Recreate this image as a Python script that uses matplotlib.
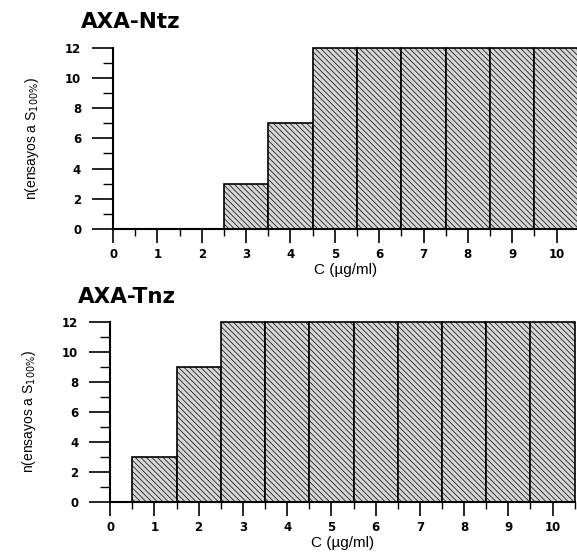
import matplotlib.pyplot as plt
import matplotlib.ticker as mticker

plt.rcParams.update(
    {
        "font.family": ["Liberation Sans", "DejaVu Sans"],
        "hatch.color": "#3c3c3c",
        "hatch.linewidth": 0.5,
    }
)

# Data
conc = [0, 1, 2, 3, 4, 5, 6, 7, 8, 9, 10]
n_ntz = [0, 0, 0, 3, 7, 12, 12, 12, 12, 12, 12]
n_tnz = [0, 3, 9, 12, 12, 12, 12, 12, 12, 12, 12]
titles = ["AXA-Ntz", "AXA-Tnz"]
xlabel = "C (\u00b5g/ml)"
ylabel = "n(ensayos a S$_{100\\%}$)"

fig = plt.figure(figsize=(5.77, 5.57), dpi=100)
ax1 = fig.add_axes([0.196, 0.589, 0.807, 0.325])
ax2 = fig.add_axes([0.191, 0.099, 0.805, 0.323])

for ax, vals, title in [(ax1, n_ntz, titles[0]), (ax2, n_tnz, titles[1])]:
    x = [c for c, v in zip(conc, vals) if v > 0]
    h = [v for v in vals if v > 0]
    bars = ax.bar(
        x,
        h,
        width=1.0,
        color="#d6d6d6",
        edgecolor="black",
        linewidth=1.2,
        hatch="\\\\\\\\\\\\",
    )
    for b in bars:
        b.set_clip_on(False)
    ax.set_xlim(0, 10.5)
    ax.set_ylim(0, 12)
    ax.spines["top"].set_visible(False)
    ax.spines["right"].set_visible(False)
    ax.spines["left"].set_linewidth(1.5)
    ax.spines["bottom"].set_linewidth(1.5)
    ax.xaxis.set_major_locator(mticker.MultipleLocator(1))
    ax.xaxis.set_minor_locator(mticker.FixedLocator([i + 0.5 for i in range(11)]))
    ax.yaxis.set_major_locator(mticker.MultipleLocator(2))
    ax.yaxis.set_minor_locator(mticker.MultipleLocator(1))
    ax.tick_params(axis="y", which="major", length=15, width=1.2, pad=8)
    ax.tick_params(axis="y", which="minor", length=7, width=1.0)
    ax.tick_params(axis="x", which="major", length=10, width=1.2, pad=4)
    ax.tick_params(axis="x", which="minor", length=5, width=1.0)
    for lab in ax.get_xticklabels() + ax.get_yticklabels():
        lab.set_fontweight("bold")
        lab.set_fontsize(8.5)
        lab.set_family("DejaVu Sans")
    ax.set_xlabel(xlabel, fontsize=11, labelpad=1)
    ax.set_ylabel(ylabel, fontsize=10, labelpad=17)
    ax.set_title(
        title, fontsize=15.5, fontweight="heavy", family="DejaVu Sans",
        loc="left", x=-0.07, pad=14,
    )

fig.savefig("out.png", dpi=100)
